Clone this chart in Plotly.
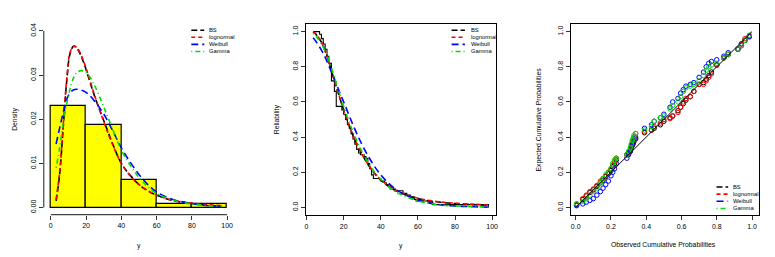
import plotly.graph_objects as go

# ---------------- data ----------------
# Panel 1: histogram (density) + fitted densities
hist_edges = [0, 20, 40, 60, 80, 100]
hist_density = [0.0231, 0.0188, 0.0062, 0.0009, 0.0009]

dens_x = [3, 5, 7, 9, 11, 13, 15, 18, 21, 25, 30, 35, 40, 45, 50, 55, 60, 70, 80, 90, 97]
dens_bs = [0.0015, 0.0075, 0.0180, 0.0285, 0.0350, 0.0366, 0.0360, 0.0335, 0.0300, 0.0250,
           0.0197, 0.0145, 0.0100, 0.0073, 0.0052, 0.0038, 0.0028, 0.0015, 0.0009, 0.0005, 0.0003]
dens_lognormal = [0.0018, 0.0080, 0.0185, 0.0290, 0.0352, 0.0365, 0.0361, 0.0338, 0.0303, 0.0252,
                  0.0195, 0.0143, 0.0100, 0.0072, 0.0052, 0.0038, 0.0028, 0.0016, 0.0010, 0.0006, 0.0004]
dens_weibull = [0.0144, 0.0180, 0.0215, 0.0245, 0.0260, 0.0267, 0.0268, 0.0265, 0.0258, 0.0240,
                0.0212, 0.0175, 0.0135, 0.0103, 0.0075, 0.0052, 0.0035, 0.0017, 0.0009, 0.0004, 0.0002]
dens_gamma = [0.0090, 0.0135, 0.0190, 0.0235, 0.0270, 0.0295, 0.0307, 0.0310, 0.0302, 0.0275,
              0.0228, 0.0178, 0.0130, 0.0096, 0.0068, 0.0047, 0.0032, 0.0016, 0.0008, 0.0004, 0.0002]

# Panel 2: Kaplan-Meier + fitted reliability
km_time = [3.5, 7, 8, 9, 10, 11, 12, 13.4, 15, 16, 19, 20, 21, 22, 23, 24, 25, 26, 27, 28, 29,
           31, 32, 33, 34, 35, 36, 40, 42, 43, 44, 45, 48, 52, 54, 56, 58, 59, 66, 68, 98]
km_surv = [1.0, 0.985, 0.96, 0.93, 0.90, 0.86, 0.82, 0.72, 0.66, 0.575, 0.555, 0.53, 0.50, 0.47,
           0.45, 0.42, 0.39, 0.36, 0.33, 0.31, 0.30, 0.29, 0.28, 0.25, 0.22, 0.185, 0.165, 0.15,
           0.14, 0.13, 0.12, 0.105, 0.095, 0.08, 0.07, 0.06, 0.045, 0.037, 0.03, 0.016, 0.0]

rel_x = [3.5, 5, 8, 10, 12, 15, 18, 20, 25, 30, 35, 40, 45, 50, 60, 70, 80, 90, 98]
rel_bs = [1.0, 0.985, 0.94, 0.89, 0.83, 0.72, 0.62, 0.555, 0.41, 0.30, 0.215, 0.155, 0.115,
          0.085, 0.050, 0.032, 0.022, 0.016, 0.012]
rel_lognormal = [1.0, 0.987, 0.94, 0.89, 0.83, 0.72, 0.62, 0.555, 0.41, 0.30, 0.217, 0.158,
                 0.117, 0.088, 0.052, 0.034, 0.024, 0.018, 0.014]
rel_weibull = [0.965, 0.945, 0.895, 0.855, 0.805, 0.73, 0.65, 0.60, 0.47, 0.355, 0.26, 0.185,
               0.13, 0.09, 0.042, 0.018, 0.008, 0.004, 0.002]
rel_gamma = [0.99, 0.975, 0.93, 0.89, 0.84, 0.74, 0.64, 0.575, 0.43, 0.315, 0.225, 0.16, 0.11,
             0.077, 0.037, 0.017, 0.008, 0.004, 0.002]

# Panel 3: P-P plot
pp_obs = [0.005, 0.04, 0.06, 0.08, 0.10, 0.12, 0.14, 0.155, 0.17, 0.185, 0.20, 0.21, 0.22, 0.23,
          0.29, 0.30, 0.31, 0.315, 0.32, 0.325, 0.33, 0.34, 0.39, 0.43, 0.445, 0.48, 0.50, 0.535,
          0.55, 0.58, 0.595, 0.61, 0.625, 0.65, 0.67, 0.70, 0.725, 0.74, 0.755, 0.77, 0.80, 0.84,
          0.865, 0.92, 0.94, 0.96, 0.985]
pp_bs = [0.015, 0.045, 0.065, 0.085, 0.10, 0.12, 0.14, 0.155, 0.175, 0.19, 0.21, 0.23, 0.25, 0.27,
         0.30, 0.31, 0.32, 0.335, 0.35, 0.36, 0.375, 0.39, 0.425, 0.44, 0.45, 0.47, 0.49, 0.51,
         0.52, 0.55, 0.57, 0.59, 0.61, 0.63, 0.66, 0.70, 0.71, 0.73, 0.75, 0.77, 0.81, 0.85,
         0.87, 0.90, 0.93, 0.95, 0.975]
pp_lognormal = [0.02, 0.05, 0.07, 0.09, 0.105, 0.125, 0.15, 0.165, 0.18, 0.20, 0.22, 0.24, 0.26,
                0.28, 0.30, 0.31, 0.33, 0.35, 0.36, 0.38, 0.40, 0.42, 0.43, 0.44, 0.46, 0.48,
                0.50, 0.505, 0.52, 0.54, 0.57, 0.60, 0.62, 0.63, 0.66, 0.70, 0.70, 0.72, 0.74,
                0.76, 0.81, 0.85, 0.87, 0.90, 0.93, 0.96, 0.975]
pp_weibull = [0.01, 0.02, 0.03, 0.04, 0.05, 0.07, 0.09, 0.11, 0.13, 0.15, 0.18, 0.20, 0.22, 0.25,
              0.28, 0.30, 0.32, 0.34, 0.36, 0.37, 0.39, 0.40, 0.45, 0.47, 0.49, 0.51, 0.53, 0.57,
              0.60, 0.62, 0.65, 0.67, 0.69, 0.70, 0.71, 0.74, 0.77, 0.80, 0.82, 0.83, 0.84, 0.86,
              0.88, 0.90, 0.92, 0.95, 0.97]
pp_gamma = [0.02, 0.035, 0.05, 0.07, 0.09, 0.11, 0.14, 0.165, 0.185, 0.20, 0.22, 0.25, 0.27, 0.28,
            0.30, 0.32, 0.34, 0.36, 0.38, 0.39, 0.41, 0.42, 0.44, 0.46, 0.49, 0.51, 0.52, 0.56,
            0.58, 0.60, 0.63, 0.66, 0.68, 0.69, 0.70, 0.72, 0.75, 0.78, 0.80, 0.81, 0.82, 0.85,
            0.87, 0.90, 0.92, 0.95, 0.98]
diag = [0, 1]

dist_names = ["BS", "lognormal", "Weibull", "Gamma"]
dist_colors = ["#000000", "#FF0000", "#0000FF", "#00DD00"]
dist_dash = ["6px,3px", "4px,3px", "7px,4px", "1px,3px,5px,3px"]

# ---------------- figure ----------------
# the page body has an 8px default margin, so the figure is placed 8px in
OFF = 8
W, H = 775 - OFF, 257 - OFF
def px(x):
    return (x - OFF) / W
def py(y):
    return 1 - (y - OFF) / H

FONT = "Liberation Sans, Arial, Helvetica, sans-serif"
fig = go.Figure()

# Panel 1
centers = [(hist_edges[i] + hist_edges[i + 1]) / 2 for i in range(len(hist_density))]
widths = [hist_edges[i + 1] - hist_edges[i] for i in range(len(hist_density))]
fig.add_trace(go.Bar(x=centers, y=hist_density, width=widths, marker=dict(color="#FFFF00",
                     line=dict(color="black", width=1.2)), xaxis="x", yaxis="y"))
for ys, c, d in zip([dens_bs, dens_lognormal, dens_weibull, dens_gamma], dist_colors, dist_dash):
    fig.add_trace(go.Scatter(x=dens_x, y=ys, mode="lines", line=dict(color=c, dash=d, width=1.6,
                             shape="spline"), xaxis="x", yaxis="y"))

# Panel 2
fig.add_trace(go.Scatter(x=km_time, y=km_surv, mode="lines", line=dict(color="black", width=1.1,
                         shape="hv"), xaxis="x2", yaxis="y2"))
for ys, c, d in zip([rel_bs, rel_lognormal, rel_weibull, rel_gamma], dist_colors, dist_dash):
    fig.add_trace(go.Scatter(x=rel_x, y=ys, mode="lines", line=dict(color=c, dash=d, width=1.6,
                             shape="spline"), xaxis="x2", yaxis="y2"))

# Panel 3
for ys, c in zip([pp_bs, pp_lognormal, pp_weibull, pp_gamma], dist_colors):
    fig.add_trace(go.Scatter(x=pp_obs, y=ys, mode="markers",
                             marker=dict(symbol="circle-open", size=4.5, color=c,
                                         line=dict(width=1, color=c)),
                             xaxis="x3", yaxis="y3"))
fig.add_trace(go.Scatter(x=diag, y=diag, mode="lines", line=dict(color="black", width=1),
                         xaxis="x3", yaxis="y3"))

tickfont = dict(family=FONT, size=7, color="black")
common = dict(showgrid=False, zeroline=False, ticks="outside", ticklen=4, tickwidth=1,
              tickcolor="#333", tickfont=tickfont)

fig.update_layout(
    width=W, height=H, margin=dict(l=0, r=0, t=0, b=0),
    paper_bgcolor="white", plot_bgcolor="white", showlegend=False, bargap=0,
    xaxis=dict(domain=[px(42.9), px(234.1)], range=[-4, 104], tickvals=[0, 20, 40, 60, 80, 100],
               showline=False, anchor="y", **common),
    yaxis=dict(domain=[py(214.4), py(23)], range=[-0.0016, 0.0416],
               tickvals=[0, 0.01, 0.02, 0.03, 0.04],
               ticktext=["0.00", "0.01", "0.02", "0.03", "0.04"], tickangle=-90,
               showline=False, anchor="x", **common),
    xaxis2=dict(domain=[px(306), px(497.3)], range=[-0.4, 102.3],
                tickvals=[0, 20, 40, 60, 80, 100], showline=True, linecolor="black",
                linewidth=1, mirror=True, anchor="y2", **common),
    yaxis2=dict(domain=[py(215), py(23.3)], range=[-0.044, 1.042],
                tickvals=[0, 0.2, 0.4, 0.6, 0.8, 1.0],
                ticktext=["0.0", "0.2", "0.4", "0.6", "0.8", "1.0"], tickangle=-90,
                showline=True, linecolor="black", linewidth=1, mirror=True, anchor="x2", **common),
    xaxis3=dict(domain=[px(572), px(761)], range=[-0.028, 1.040],
                tickvals=[0, 0.2, 0.4, 0.6, 0.8, 1.0],
                ticktext=["0.0", "0.2", "0.4", "0.6", "0.8", "1.0"],
                showline=True, linecolor="black", linewidth=1, mirror=True, anchor="y3", **common),
    yaxis3=dict(domain=[py(215), py(23.3)], range=[-0.044, 1.042],
                tickvals=[0, 0.2, 0.4, 0.6, 0.8, 1.0],
                ticktext=["0.0", "0.2", "0.4", "0.6", "0.8", "1.0"], tickangle=-90,
                showline=True, linecolor="black", linewidth=1, mirror=True, anchor="x3", **common),
)

shapes = []
# R-style axis lines for panel 1 (span only the tick range)
shapes.append(dict(type="line", xref="x", yref="y domain", x0=0, x1=100, y0=0, y1=0,
                   line=dict(color="#444", width=1.2)))
shapes.append(dict(type="line", xref="x domain", yref="y", x0=0, x1=0, y0=0, y1=0.04,
                   line=dict(color="#444", width=1.2)))

annotations = []
def ann(text, x, y, angle=0, size=6.8, xanchor="center"):
    annotations.append(dict(text=text, x=px(x), y=py(y), xref="paper", yref="paper",
                            showarrow=False, textangle=angle, xanchor=xanchor, yanchor="middle",
                            font=dict(family=FONT, size=size, color="black")))

# Axis titles
ann("Density", 13.3, 119, angle=-90)
ann("y", 138.5, 246)
ann("Reliability", 276.7, 119, angle=-90)
ann("y", 401.7, 246)
ann("Expected Cumulative Probabilities", 540, 119, angle=-90)
ann("Observed Cumulative Probabilities", 665, 244.3)

# Manual legends
legend_specs = [
    (191, 204, 206.5, [29.3, 36.4, 43.5, 50.6]),
    (452.3, 465.7, 469.5, [29.3, 36.4, 43.5, 50.6]),
    (718.3, 730, 733.3, [186.7, 193.9, 201.1, 208.3]),
]
for x0, x1, xt, rows in legend_specs:
    for name, c, d, yr in zip(dist_names, dist_colors, dist_dash, rows):
        shapes.append(dict(type="line", xref="paper", yref="paper", x0=px(x0), x1=px(x1),
                           y0=py(yr), y1=py(yr), line=dict(color=c, width=1.6, dash=d)))
        ann(name, xt, yr, size=5.8, xanchor="left")

fig.update_layout(shapes=shapes, annotations=annotations)
fig.write_html("out.html")
